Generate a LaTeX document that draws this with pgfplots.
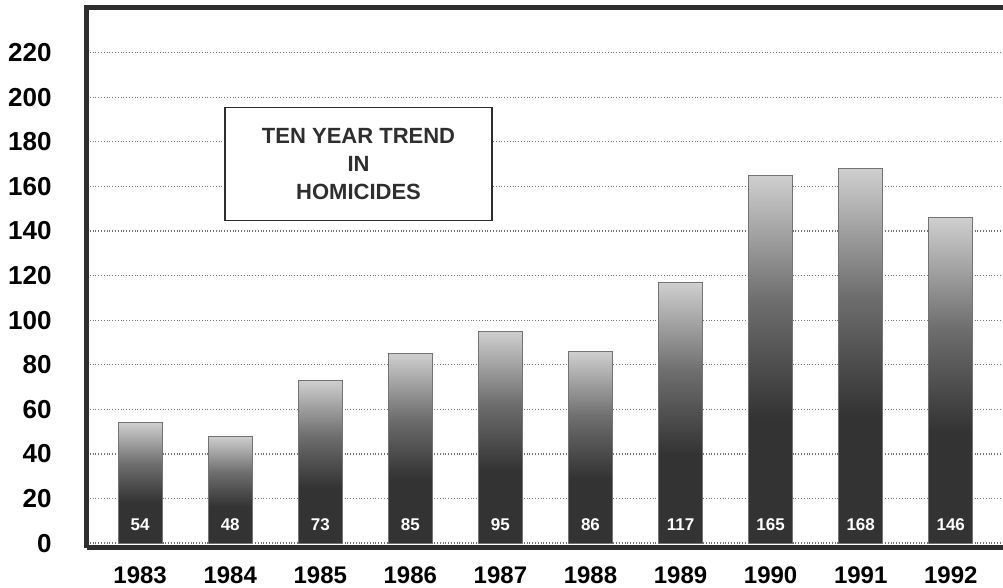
\documentclass[border=0pt]{standalone}
\usepackage{pgfplots}
\pgfplotsset{compat=1.18}
\usepackage{pgfplotstable}
\usepackage{fontspec}
\setmainfont{Liberation Sans}

\definecolor{bardark}{HTML}{333333}
\definecolor{barmid}{HTML}{6E6E6E}
\definecolor{barlight}{HTML}{CFCFCF}
\definecolor{frameink}{HTML}{2E2E2E}

% stops 25bp..75bp span the bar from bottom to top
\pgfdeclareverticalshading{barshade}{100bp}{
  color(0bp)=(bardark); color(25bp)=(bardark); color(42bp)=(bardark);
  color(58bp)=(barmid); color(75bp)=(barlight); color(100bp)=(barlight)}

\pgfplotstableread{
x year count base
0 1983 54 0
1 1984 48 0
2 1985 73 0
3 1986 85 0
4 1987 95 0
5 1988 86 0
6 1989 117 0
7 1990 165 0
8 1991 168 0
9 1992 146 0
}\homicides

\begin{document}
\begin{tikzpicture}
\begin{axis}[
    scale only axis,
    width=458pt, height=270pt,
    xmin=-0.59, xmax=9.58,
    ymin=-2.2, ymax=240,
    axis line style={draw=none},
    xtick={0,...,9},
    xticklabels={1983,1984,1985,1986,1987,1988,1989,1990,1991,1992},
    ytick={0,20,...,220},
    major tick length=0pt,
    ymajorgrids,
    grid style={black!55, densely dotted, line width=0.6pt},
    /pgf/number format/assume math mode=true,
    yticklabel style={font=\bfseries\fontsize{13}{15}\selectfont, anchor=east, inner sep=0pt, xshift=-17.5pt},
    xticklabel style={font=\bfseries\fontsize{12}{14}\selectfont, anchor=north, inner sep=0pt, yshift=-9pt},
    clip=false,
]
% one plot per bar, so that each bar gets its own shading
\pgfplotsinvokeforeach{0,...,9}{
  \addplot[ybar, bar width=22pt, draw=black!55, line width=0.5pt, shading=barshade,
      restrict x to domain=#1:#1]
      table[x=x, y=count] {\homicides};
}
\addplot[draw=none, mark=none, nodes near coords, point meta=explicit symbolic,
    every node near coord/.append style={anchor=south, inner sep=0pt, yshift=6pt,
      text=white, font=\bfseries\fontsize{8.5}{10}\selectfont}]
    table[x=x, y=base, meta=count] {\homicides};

\node[draw=frameink, line width=0.9pt, fill=white, minimum width=133.5pt, minimum height=56.5pt,
      align=center, font=\bfseries\fontsize{11}{14}\selectfont, text=frameink]
    at (axis cs:2.425,170) {TEN YEAR TREND\\IN\\HOMICIDES};

\draw[frameink, line width=2.5pt] (rel axis cs:0,0) -- (rel axis cs:1,0);
\draw[frameink, line width=2.5pt] (rel axis cs:0,0) -- (rel axis cs:0,1) -- (rel axis cs:1,1);
\end{axis}
\pgfresetboundingbox
\useasboundingbox (-43.5pt,-20pt) rectangle (458pt,274pt);
\end{tikzpicture}
\end{document}
